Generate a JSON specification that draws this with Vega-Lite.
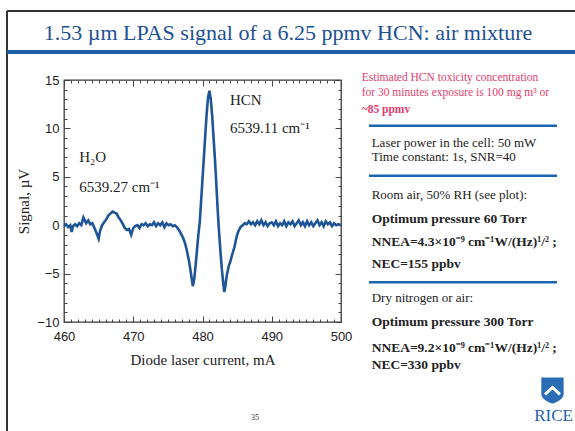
{
  "$schema": "https://vega.github.io/schema/vega-lite/v6.json",
  "autosize": {"type": "none"},
  "width": 277,
  "height": 242,
  "padding": {"left": 64, "top": 80, "right": 234, "bottom": 109},
  "background": "white",
  "config": {
    "view": {"stroke": "#3a3a3a", "strokeWidth": 1.3},
    "axis": {"grid": false, "domain": false, "tickColor": "#444", "labelFont": "Liberation Sans", "labelFontSize": 13, "labelColor": "#222", "titleFont": "Liberation Serif", "titleFontSize": 15, "titleFontWeight": "normal", "titleColor": "#222", "labelFlush": false}
  },
  "datasets": {
    "curve": [
      {"mA":460.0,"s":-0.1},{"mA":460.3,"s":0.1},{"mA":460.6,"s":-0.2},{"mA":460.9,"s":0.0},{"mA":461.1,"s":-0.7},{"mA":461.3,"s":-0.1},{"mA":461.6,"s":0.1},{"mA":461.9,"s":-0.1},{"mA":462.2,"s":0.2},{"mA":462.5,"s":0.0},{"mA":462.8,"s":0.8},{"mA":463.0,"s":0.5},{"mA":463.2,"s":0.2},{"mA":463.5,"s":0.5},{"mA":463.8,"s":0.1},{"mA":464.1,"s":0.2},{"mA":464.4,"s":-0.3},{"mA":464.7,"s":-0.8},{"mA":465.0,"s":-1.4},{"mA":465.2,"s":-0.6},{"mA":465.5,"s":0.0},{"mA":465.8,"s":0.3},{"mA":466.1,"s":0.6},{"mA":466.4,"s":1.0},{"mA":466.7,"s":1.2},{"mA":467.0,"s":1.4},{"mA":467.3,"s":1.3},{"mA":467.6,"s":1.2},{"mA":467.9,"s":0.8},{"mA":468.2,"s":0.5},{"mA":468.5,"s":0.1},{"mA":468.8,"s":-0.3},{"mA":469.1,"s":-0.5},{"mA":469.4,"s":-0.4},{"mA":469.7,"s":-1.0},{"mA":470.0,"s":-0.3},{"mA":470.3,"s":-0.1},{"mA":470.6,"s":0.0},{"mA":470.9,"s":-0.3},{"mA":471.2,"s":0.1},{"mA":471.5,"s":0.0},{"mA":471.8,"s":0.2},{"mA":472.1,"s":-0.1},{"mA":472.4,"s":0.1},{"mA":472.7,"s":0.0},{"mA":473.0,"s":0.3},{"mA":473.3,"s":-0.1},{"mA":473.6,"s":0.2},{"mA":473.9,"s":0.0},{"mA":474.2,"s":0.3},{"mA":474.5,"s":-0.2},{"mA":474.8,"s":0.2},{"mA":475.1,"s":0.0},{"mA":475.4,"s":0.1},{"mA":475.7,"s":-0.1},{"mA":476.0,"s":0.0},{"mA":476.3,"s":-0.2},{"mA":476.6,"s":-0.5},{"mA":476.9,"s":-0.9},{"mA":477.2,"s":-1.3},{"mA":477.5,"s":-1.9},{"mA":477.8,"s":-2.8},{"mA":478.1,"s":-3.9},{"mA":478.4,"s":-5.3},{"mA":478.6,"s":-6.3},{"mA":478.8,"s":-5.6},{"mA":479.0,"s":-4.2},{"mA":479.2,"s":-2.6},{"mA":479.4,"s":-1.0},{"mA":479.6,"s":0.3},{"mA":479.8,"s":2.5},{"mA":480.0,"s":4.8},{"mA":480.2,"s":7.0},{"mA":480.4,"s":9.3},{"mA":480.6,"s":11.5},{"mA":480.8,"s":13.2},{"mA":481.0,"s":13.9},{"mA":481.2,"s":13.0},{"mA":481.4,"s":11.3},{"mA":481.6,"s":9.0},{"mA":481.8,"s":6.8},{"mA":482.0,"s":4.2},{"mA":482.2,"s":1.5},{"mA":482.4,"s":-0.8},{"mA":482.6,"s":-2.8},{"mA":482.8,"s":-4.6},{"mA":483.0,"s":-6.0},{"mA":483.15,"s":-6.9},{"mA":483.3,"s":-6.3},{"mA":483.5,"s":-5.2},{"mA":483.8,"s":-4.2},{"mA":484.0,"s":-3.8},{"mA":484.3,"s":-3.0},{"mA":484.6,"s":-2.3},{"mA":484.8,"s":-1.6},{"mA":485.0,"s":-1.0},{"mA":485.2,"s":-0.6},{"mA":485.5,"s":-0.2},{"mA":485.8,"s":0.0},{"mA":486.1,"s":0.2},{"mA":486.4,"s":0.1},{"mA":486.7,"s":0.4},{"mA":487.0,"s":0.1},{"mA":487.3,"s":0.3},{"mA":487.6,"s":0.0},{"mA":487.9,"s":0.4},{"mA":488.2,"s":0.1},{"mA":488.5,"s":0.5},{"mA":488.8,"s":0.0},{"mA":489.1,"s":0.3},{"mA":489.4,"s":-0.1},{"mA":489.7,"s":0.2},{"mA":490.0,"s":0.3},{"mA":490.3,"s":0.0},{"mA":490.6,"s":0.4},{"mA":490.9,"s":-0.1},{"mA":491.2,"s":0.2},{"mA":491.5,"s":0.0},{"mA":491.8,"s":0.4},{"mA":492.1,"s":-0.1},{"mA":492.4,"s":0.3},{"mA":492.7,"s":0.1},{"mA":493.0,"s":0.4},{"mA":493.3,"s":-0.1},{"mA":493.6,"s":0.2},{"mA":493.9,"s":0.5},{"mA":494.2,"s":0.0},{"mA":494.5,"s":0.3},{"mA":494.8,"s":-0.1},{"mA":495.1,"s":0.4},{"mA":495.4,"s":0.0},{"mA":495.7,"s":0.3},{"mA":496.0,"s":-0.1},{"mA":496.3,"s":0.2},{"mA":496.6,"s":0.5},{"mA":496.9,"s":0.0},{"mA":497.2,"s":0.3},{"mA":497.5,"s":-0.1},{"mA":497.8,"s":0.4},{"mA":498.1,"s":0.1},{"mA":498.4,"s":0.3},{"mA":498.7,"s":-0.1},{"mA":499.0,"s":0.2},{"mA":499.3,"s":0.0},{"mA":499.6,"s":0.1},{"mA":500.0,"s":0.0}
    ]
  },
  "resolve": {"axis": {"x": "independent", "y": "independent"}},
  "layer": [
    {
      "data": {"name": "curve"},
      "mark": {"type": "line", "color": "#1d5597", "strokeWidth": 2.6},
      "encoding": {
        "x": {"field": "mA", "type": "quantitative", "scale": {"domain": [460, 500], "nice": false, "zero": false},
              "axis": {"orient": "bottom", "values": [460, 470, 480, 490, 500], "tickSize": -6, "labelPadding": 14, "title": "Diode laser current, mA", "titlePadding": 9}},
        "y": {"field": "s", "type": "quantitative", "scale": {"domain": [-10, 15], "nice": false, "zero": false},
              "axis": {"orient": "left", "values": [-10, -5, 0, 5, 10, 15], "tickSize": -6, "labelPadding": 11, "title": "Signal, µV", "titlePadding": 5}}
      }
    },
    {
      "data": {"name": "curve"},
      "mark": {"type": "line", "opacity": 0},
      "encoding": {
        "x": {"field": "mA", "type": "quantitative", "scale": {"domain": [460, 500], "nice": false, "zero": false},
              "axis": {"orient": "top", "values": [460, 470, 480, 490, 500], "tickSize": -6, "labels": false, "title": null}},
        "y": {"field": "s", "type": "quantitative", "scale": {"domain": [-10, 15], "nice": false, "zero": false},
              "axis": {"orient": "right", "values": [-10, -5, 0, 5, 10, 15], "tickSize": -6, "labels": false, "title": null}}
      }
    },
    {
      "data": {"name": "curve"},
      "mark": {"type": "line", "opacity": 0},
      "encoding": {
        "x": {"field": "mA", "type": "quantitative", "scale": {"domain": [460, 500], "nice": false, "zero": false},
              "axis": {"orient": "bottom", "values": [461,462,463,464,465,466,467,468,469,471,472,473,474,475,476,477,478,479,481,482,483,484,485,486,487,488,489,491,492,493,494,495,496,497,498,499], "tickSize": -3, "labels": false, "title": null}},
        "y": {"field": "s", "type": "quantitative", "scale": {"domain": [-10, 15], "nice": false, "zero": false},
              "axis": {"orient": "left", "values": [-9,-8,-7,-6,-4,-3,-2,-1,1,2,3,4,6,7,8,9,11,12,13,14], "tickSize": -3, "labels": false, "title": null}}
      }
    },
    {
      "data": {"name": "curve"},
      "mark": {"type": "line", "opacity": 0},
      "encoding": {
        "x": {"field": "mA", "type": "quantitative", "scale": {"domain": [460, 500], "nice": false, "zero": false},
              "axis": {"orient": "top", "values": [461,462,463,464,465,466,467,468,469,471,472,473,474,475,476,477,478,479,481,482,483,484,485,486,487,488,489,491,492,493,494,495,496,497,498,499], "tickSize": -3, "labels": false, "title": null}},
        "y": {"field": "s", "type": "quantitative", "scale": {"domain": [-10, 15], "nice": false, "zero": false},
              "axis": {"orient": "right", "values": [-9,-8,-7,-6,-4,-3,-2,-1,1,2,3,4,6,7,8,9,11,12,13,14], "tickSize": -3, "labels": false, "title": null}}
      }
    },
    {
      "data": {"values": [
        {"x": 451.77, "x2": 533.8, "y": 22.13, "y2": 22.13},
        {"x": 451.77, "x2": 451.77, "y": 22.13, "y2": -21.3}
      ]},
      "mark": {"type": "rule", "color": "#333", "strokeWidth": 2},
      "encoding": {
        "x": {"field": "x", "type": "quantitative", "scale": {"domain": [460, 500], "nice": false, "zero": false}, "axis": null},
        "x2": {"field": "x2"},
        "y": {"field": "y", "type": "quantitative", "scale": {"domain": [-10, 15], "nice": false, "zero": false}, "axis": null},
        "y2": {"field": "y2"}
      }
    },
    {
      "data": {"values": [
        {"x": 451.77, "x2": 533.8, "y": 17.89, "y2": 17.89}
      ]},
      "mark": {"type": "rule", "color": "#1f5fa8", "strokeWidth": 4},
      "encoding": {
        "x": {"field": "x", "type": "quantitative", "scale": {"domain": [460, 500], "nice": false, "zero": false}, "axis": null},
        "x2": {"field": "x2"},
        "y": {"field": "y", "type": "quantitative", "scale": {"domain": [-10, 15], "nice": false, "zero": false}, "axis": null},
        "y2": {"field": "y2"}
      }
    },
    {
      "data": {"values": [
        {"x": 504.04, "x2": 531.19, "y": 10.28, "y2": 10.28},
        {"x": 504.04, "x2": 531.19, "y": 5.11, "y2": 5.11},
        {"x": 504.04, "x2": 531.19, "y": -5.90, "y2": -5.90}
      ]},
      "mark": {"type": "rule", "color": "#1a66b3", "strokeWidth": 2.5},
      "encoding": {
        "x": {"field": "x", "type": "quantitative", "scale": {"domain": [460, 500], "nice": false, "zero": false}, "axis": null},
        "x2": {"field": "x2"},
        "y": {"field": "y", "type": "quantitative", "scale": {"domain": [-10, 15], "nice": false, "zero": false}, "axis": null},
        "y2": {"field": "y2"}
      }
    },
    {
      "data": {"values": [{"x": 492.35, "y": 19.86, "t": "1.53 µm LPAS signal of a 6.25 ppmv HCN: air mixture"}]},
      "mark": {"type": "text", "font": "Liberation Serif", "fontSize": 22, "color": "#1d5193", "align": "center", "baseline": "middle"},
      "encoding": {
        "x": {"field": "x", "type": "quantitative", "scale": {"domain": [460, 500], "nice": false, "zero": false}, "axis": null},
        "y": {"field": "y", "type": "quantitative", "scale": {"domain": [-10, 15], "nice": false, "zero": false}, "axis": null},
        "text": {"field": "t"}
      }
    },
    {
      "data": {"values": [
        {"x": 483.97, "y": 12.93, "t": "HCN"},
        {"x": 483.97, "y": 10.04, "t": "6539.11 cm⁻¹"},
        {"x": 462.2, "y": 7.04, "t": "H₂O"},
        {"x": 462.2, "y": 3.94, "t": "6539.27 cm⁻¹"}
      ]},
      "mark": {"type": "text", "font": "Liberation Serif", "fontSize": 15, "color": "#222", "align": "left", "baseline": "middle"},
      "encoding": {
        "x": {"field": "x", "type": "quantitative", "scale": {"domain": [460, 500], "nice": false, "zero": false}, "axis": null},
        "y": {"field": "y", "type": "quantitative", "scale": {"domain": [-10, 15], "nice": false, "zero": false}, "axis": null},
        "text": {"field": "t"}
      }
    },
    {
      "data": {"values": [
        {"x": 502.99, "y": 15.18, "t": "Estimated HCN toxicity concentration"},
        {"x": 502.99, "y": 13.63, "t": "for 30 minutes exposure is 100 mg m³ or"}
      ]},
      "mark": {"type": "text", "font": "Liberation Serif", "fontSize": 11.5, "color": "#e23c6c", "align": "left", "baseline": "middle"},
      "encoding": {
        "x": {"field": "x", "type": "quantitative", "scale": {"domain": [460, 500], "nice": false, "zero": false}, "axis": null},
        "y": {"field": "y", "type": "quantitative", "scale": {"domain": [-10, 15], "nice": false, "zero": false}, "axis": null},
        "text": {"field": "t"}
      }
    },
    {
      "data": {"values": [
        {"x": 502.99, "y": 11.90, "t": "~85 ppmv"}
      ]},
      "mark": {"type": "text", "font": "Liberation Serif", "fontSize": 11.5, "fontWeight": "bold", "color": "#e23c6c", "align": "left", "baseline": "middle"},
      "encoding": {
        "x": {"field": "x", "type": "quantitative", "scale": {"domain": [460, 500], "nice": false, "zero": false}, "axis": null},
        "y": {"field": "y", "type": "quantitative", "scale": {"domain": [-10, 15], "nice": false, "zero": false}, "axis": null},
        "text": {"field": "t"}
      }
    },
    {
      "data": {"values": [
        {"x": 504.43, "y": 8.46, "t": "Laser power in the cell: 50 mW"},
        {"x": 504.43, "y": 7.01, "t": "Time constant: 1s, SNR=40"},
        {"x": 504.43, "y": 3.12, "t": "Room air, 50% RH (see plot):"},
        {"x": 504.43, "y": -7.55, "t": "Dry nitrogen or air:"}
      ]},
      "mark": {"type": "text", "font": "Liberation Serif", "fontSize": 13, "color": "#222", "align": "left", "baseline": "middle"},
      "encoding": {
        "x": {"field": "x", "type": "quantitative", "scale": {"domain": [460, 500], "nice": false, "zero": false}, "axis": null},
        "y": {"field": "y", "type": "quantitative", "scale": {"domain": [-10, 15], "nice": false, "zero": false}, "axis": null},
        "text": {"field": "t"}
      }
    },
    {
      "data": {"values": [
        {"x": 504.43, "y": 0.61, "t": "Optimum pressure 60 Torr"},
        {"x": 504.43, "y": -1.70, "t": "NNEA=4.3×10⁻⁹ cm⁻¹W/(Hz)¹/² ;"},
        {"x": 504.43, "y": -4.01, "t": "NEC=155 ppbv"},
        {"x": 504.43, "y": -9.97, "t": "Optimum pressure 300 Torr"},
        {"x": 504.43, "y": -12.72, "t": "NNEA=9.2×10⁻⁹ cm⁻¹W/(Hz)¹/² ;"},
        {"x": 504.43, "y": -14.44, "t": "NEC=330 ppbv"}
      ]},
      "mark": {"type": "text", "font": "Liberation Serif", "fontSize": 13.5, "fontWeight": "bold", "color": "#222", "align": "left", "baseline": "middle"},
      "encoding": {
        "x": {"field": "x", "type": "quantitative", "scale": {"domain": [460, 500], "nice": false, "zero": false}, "axis": null},
        "y": {"field": "y", "type": "quantitative", "scale": {"domain": [-10, 15], "nice": false, "zero": false}, "axis": null},
        "text": {"field": "t"}
      }
    },
    {
      "data": {"values": [{"x": 530.54, "y": -17.02}]},
      "mark": {"type": "point", "shape": "M -0.9 -1 L 0.9 -1 L 0.9 0.3 C 0.9 0.7 0.45 0.95 0 1.1 C -0.45 0.95 -0.9 0.7 -0.9 0.3 Z", "filled": true, "color": "#2a6cb5", "opacity": 1, "size": 615},
      "encoding": {
        "x": {"field": "x", "type": "quantitative", "scale": {"domain": [460, 500], "nice": false, "zero": false}, "axis": null},
        "y": {"field": "y", "type": "quantitative", "scale": {"domain": [-10, 15], "nice": false, "zero": false}, "axis": null}
      }
    },
    {
      "data": {"values": [{"x": 530.54, "y": -17.02}]},
      "mark": {"type": "point", "shape": "M -0.6 0.35 L 0 -0.2 L 0.6 0.35", "filled": false, "color": "white", "strokeWidth": 3, "opacity": 1, "size": 615},
      "encoding": {
        "x": {"field": "x", "type": "quantitative", "scale": {"domain": [460, 500], "nice": false, "zero": false}, "axis": null},
        "y": {"field": "y", "type": "quantitative", "scale": {"domain": [-10, 15], "nice": false, "zero": false}, "axis": null}
      }
    },
    {
      "data": {"values": [{"x": 533.5, "y": -19.71, "t": "RICE"}]},
      "mark": {"type": "text", "font": "Liberation Serif", "fontSize": 17, "color": "#1f5fa8", "align": "right", "baseline": "middle"},
      "encoding": {
        "x": {"field": "x", "type": "quantitative", "scale": {"domain": [460, 500], "nice": false, "zero": false}, "axis": null},
        "y": {"field": "y", "type": "quantitative", "scale": {"domain": [-10, 15], "nice": false, "zero": false}, "axis": null},
        "text": {"field": "t"}
      }
    },
    {
      "data": {"values": [{"x": 487.58, "y": -19.89, "t": "35"}]},
      "mark": {"type": "text", "font": "Liberation Serif", "fontSize": 8, "color": "#333", "align": "center", "baseline": "middle"},
      "encoding": {
        "x": {"field": "x", "type": "quantitative", "scale": {"domain": [460, 500], "nice": false, "zero": false}, "axis": null},
        "y": {"field": "y", "type": "quantitative", "scale": {"domain": [-10, 15], "nice": false, "zero": false}, "axis": null},
        "text": {"field": "t"}
      }
    }
  ]
}
